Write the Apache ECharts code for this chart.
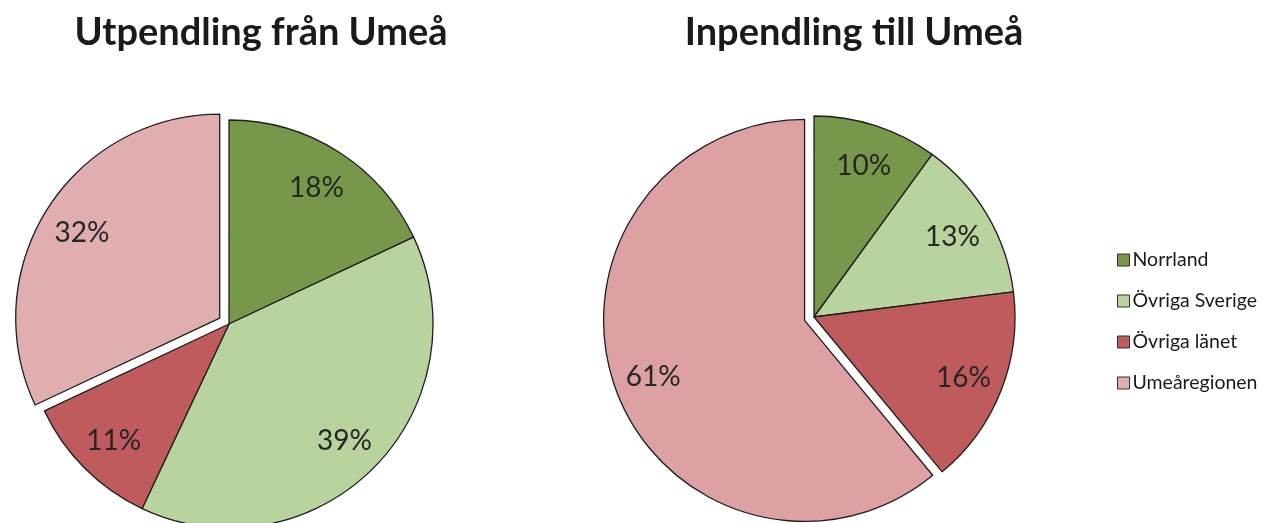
<!DOCTYPE html>
<html>
<head>
<meta charset="utf-8">
<script src="https://cdn.jsdelivr.net/npm/echarts@6/dist/echarts.min.js"></script>
<style>
    html, body { margin: 0; padding: 0; background: #fff; }
    #chart { width: 1282px; height: 523px; }
</style>
</head>
<body>
<div id="chart"></div>
<script>
// Data
const categories = ['Norrland', 'Övriga Sverige', 'Övriga länet', 'Umeåregionen'];
const utpendling = [18, 39, 11, 32];
const inpendling = [10, 13, 16, 61];
const titles = ['Utpendling från Umeå', 'Inpendling till Umeå'];
const exploded = 'Umeåregionen';

const colors = ['#77984b', '#b8d39e', '#c05b5d', '#e0aeaf'];
const colorsRight = ['#77984b', '#b8d39e', '#c05b5d', '#dda1a4'];
const font = 'Lato, "Open Sans", sans-serif';

function buildData(values, palette, withColor) {
    return categories.map((name, i) => ({
        name: name,
        value: values[i],
        selected: name === exploded,
        itemStyle: withColor ? { color: palette[i] } : undefined
    }));
}

// main pie with borders, no labels
function mainPie(values, palette, center, r, offset) {
    return {
        type: 'pie',
        center: center,
        radius: [0, r],
        startAngle: 90,
        clockwise: true,
        selectedMode: 'multiple',
        selectedOffset: offset,
        silent: true,
        animation: false,
        label: { show: false },
        labelLine: { show: false },
        itemStyle: { borderColor: '#1e1e1e', borderWidth: 1.3 },
        emphasis: { disabled: true },
        data: buildData(values, palette, true)
    };
}

// transparent ring on top, only to put labels at ~0.78 of the radius
function labelRing(values, center, r, offset) {
    return {
        type: 'pie',
        center: center,
        radius: [r * 0.57, r],
        startAngle: 90,
        clockwise: true,
        selectedMode: 'multiple',
        selectedOffset: offset,
        silent: true,
        animation: false,
        itemStyle: { color: 'rgba(0,0,0,0)', borderWidth: 0 },
        label: {
            show: true,
            position: 'inside',
            formatter: '{c}%',
            fontFamily: font,
            fontSize: 28,
            color: '#262626'
        },
        labelLayout: { dy: 2 },
        labelLine: { show: false },
        emphasis: { disabled: true },
        data: buildData(values, null, false)
    };
}

const chart = echarts.init(document.getElementById('chart'), null, { renderer: 'canvas' });

chart.setOption({
    backgroundColor: '#ffffff',
    animation: false,
    title: [
        {
            text: titles[0], left: 256, top: 9, textAlign: 'center',
            textStyle: { fontFamily: font, fontSize: 38, fontWeight: 'bold', color: '#1a1a1a' }
        },
        {
            text: titles[1], left: 849, top: 9, textAlign: 'center',
            textStyle: { fontFamily: font, fontSize: 38, fontWeight: 'bold', color: '#1a1a1a' }
        }
    ],
    legend: {
        orient: 'vertical',
        left: 1112,
        top: 245,
        icon: 'rect',
        itemWidth: 12,
        itemHeight: 12,
        itemGap: 21,
        selectedMode: false,
        textStyle: { fontFamily: font, fontSize: 19.5, color: '#1a1a1a', padding: [0, 0, 0, -2] },
        data: categories.map((name, i) => ({
            name: name,
            itemStyle: { color: colors[i], borderColor: '#333', borderWidth: 1 }
        }))
    },
    series: [
        mainPie(utpendling, colors, [229, 324], 204, 11),
        labelRing(utpendling, [229, 324], 204, 11),
        mainPie(inpendling, colorsRight, [814, 317], 201, 10),
        labelRing(inpendling, [814, 317], 201, 10)
    ]
});

window.addEventListener('resize', function() {
    chart.resize();
});
</script>
</body>
</html>
